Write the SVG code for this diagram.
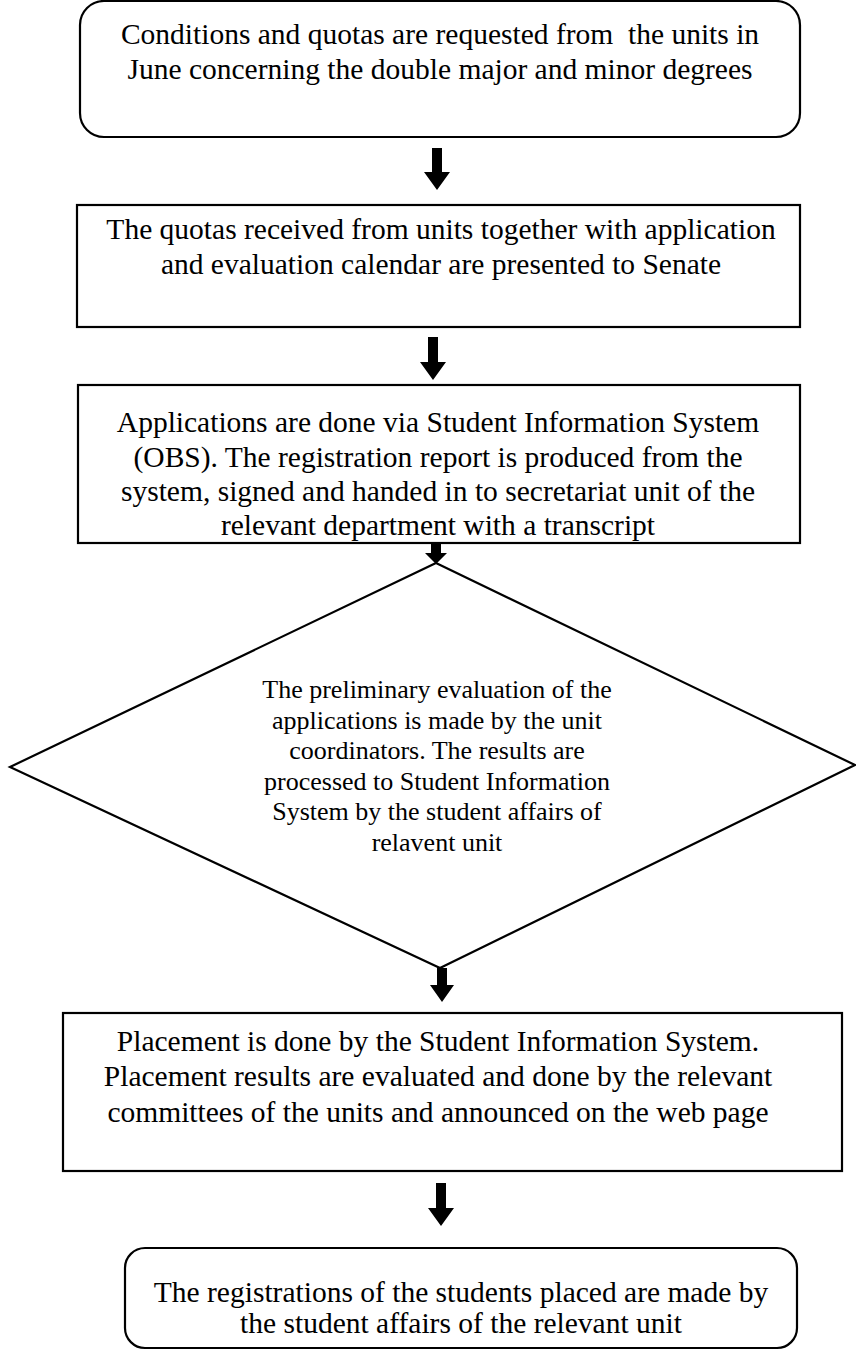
<svg xmlns="http://www.w3.org/2000/svg" width="856" height="1350" viewBox="0 0 856 1350">
<style>
.box{fill:#fff;stroke:#000;stroke-width:2.2}
.t{font-family:"Liberation Serif","Times New Roman",serif;font-size:29.5px;fill:#000;text-anchor:middle;white-space:pre}
.d{font-family:"Liberation Serif","Times New Roman",serif;font-size:26px;fill:#000;text-anchor:middle}
.arr{fill:#000;stroke:none}
</style>
<rect width="856" height="1350" fill="#fff"/>
<g id="n1">
<rect class="box" x="80" y="1" width="720" height="136" rx="24"/>
<text class="t" x="440" y="44" xml:space="preserve">Conditions and quotas are requested from  the units in</text>
<text class="t" x="440" y="79">June concerning the double major and minor degrees</text>
</g>
<g id="n2">
<rect class="box" x="77" y="205" width="723" height="122"/>
<text class="t" x="441" y="239">The quotas received from units together with application</text>
<text class="t" x="441" y="274">and evaluation calendar are presented to Senate</text>
</g>
<g id="n3">
<rect class="box" x="78" y="385" width="722" height="158"/>
<text class="t" x="438" y="432">Applications are done via Student Information System</text>
<text class="t" x="438" y="467">(OBS). The registration report is produced from the</text>
<text class="t" x="438" y="501">system, signed and handed in to secretariat unit of the</text>
<text class="t" x="438" y="535">relevant department with a transcript</text>
</g>
<g id="n4">
<polygon class="box" points="436,563 855,765 440,968 10,767"/>
<text class="d" x="437" y="698">The preliminary evaluation of the</text>
<text class="d" x="437" y="729">applications is made by the unit</text>
<text class="d" x="437" y="759">coordinators. The results are</text>
<text class="d" x="437" y="790">processed to Student Information</text>
<text class="d" x="437" y="820">System by the student affairs of</text>
<text class="d" x="437" y="851">relavent unit</text>
</g>
<g id="n5">
<rect class="box" x="63" y="1013" width="779" height="158"/>
<text class="t" x="438" y="1051">Placement is done by the Student Information System.</text>
<text class="t" x="438" y="1086">Placement results are evaluated and done by the relevant</text>
<text class="t" x="438" y="1122">committees of the units and announced on the web page</text>
</g>
<g id="n6">
<rect class="box" x="125" y="1248" width="672" height="100" rx="20"/>
<text class="t" x="461" y="1302">The registrations of the students placed are made by</text>
<text class="t" x="461" y="1333">the student affairs of the relevant unit</text>
</g>
<g id="connectors">
<polygon class="arr" points="432,148 442,148 442,172 450,172 437,190 424,172 432,172"/>
<polygon class="arr" points="428,337 438,337 438,362 446,362 433,380 420,362 428,362"/>
<polygon class="arr" points="431,544 441,544 441,553 447,553 436,564 425,553 431,553"/>
<polygon class="arr" points="437,968 447,968 447,985 454,985 442,1002 430,985 437,985"/>
<polygon class="arr" points="436,1183 446,1183 446,1208 454,1208 441,1226 428,1208 436,1208"/>
</g>
</svg>
